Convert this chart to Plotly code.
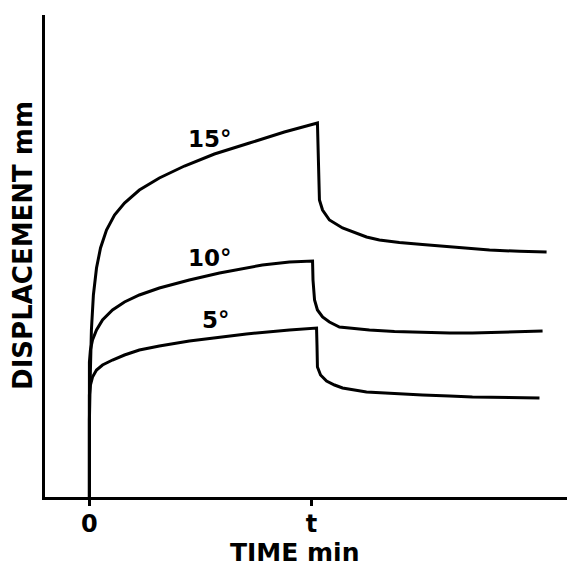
import plotly.graph_objects as go

# Time axis: 0 = load applied, 10 = release time "t"
x15 = [0, 0, 0.045, 0.09, 0.18, 0.32, 0.50, 0.77, 1.13, 1.58, 2.25, 3.15, 4.28, 5.63, 7.21, 8.78, 10.27,
       10.29, 10.32, 10.36, 10.50, 10.81, 11.40, 12.48, 13.06, 13.96, 15.0, 16.53, 18.02, 19.37, 20.59]
y15 = [0, 7.7, 12.7, 16.7, 20.2, 22.9, 24.9, 26.7, 28.2, 29.4, 30.7, 31.9, 33.1, 34.3, 35.4, 36.5, 37.4,
       34.7, 31.7, 29.7, 28.7, 27.7, 26.9, 26.0, 25.7, 25.45, 25.25, 24.95, 24.7, 24.57, 24.5]

x10 = [0, 0, 0.045, 0.14, 0.32, 0.59, 1.04, 1.58, 2.25, 3.15, 4.5, 5.86, 7.79, 9.01, 10.05,
       10.07, 10.14, 10.27, 10.50, 10.81, 11.26, 11.94, 12.61, 13.74, 15.0, 16.22, 17.25, 18.92, 20.41]
y10 = [0, 13.5, 14.7, 15.7, 16.7, 17.7, 18.7, 19.5, 20.2, 20.9, 21.7, 22.4, 23.2, 23.5, 23.6,
       21.7, 19.7, 18.7, 18.0, 17.5, 17.0, 16.83, 16.7, 16.55, 16.45, 16.4, 16.4, 16.47, 16.6]

x5 = [0, 0, 0.045, 0.14, 0.32, 0.59, 1.04, 1.58, 2.25, 3.15, 4.5, 5.86, 7.07, 9.01, 10.23,
      10.25, 10.27, 10.41, 10.68, 11.04, 11.40, 12.48, 13.74, 15.0, 16.22, 17.25, 20.27]
y5 = [0, 10.2, 11.2, 12.0, 12.7, 13.2, 13.7, 14.2, 14.7, 15.1, 15.6, 16.0, 16.3, 16.7, 16.9,
      15.2, 13.0, 12.2, 11.6, 11.2, 10.9, 10.5, 10.32, 10.2, 10.1, 10.0, 9.9]

series = [("15°", x15, y15, 5.41, 35.8),
          ("10°", x10, y10, 5.41, 23.9),
          ("5°", x5, y5, 5.72, 17.7)]

tick_vals = [0, 10]
tick_text = ["0", "t"]

FONT = "DejaVu Sans"

fig = go.Figure()
for name, xs, ys, lx, ly in series:
    fig.add_trace(go.Scatter(x=xs, y=ys, mode="lines", name=name,
                             line=dict(color="black", width=3),
                             showlegend=False, hoverinfo="skip"))
    fig.add_annotation(x=lx, y=ly, text=name, showarrow=False,
                       xanchor="center", yanchor="middle",
                       font=dict(family=FONT, size=23, color="black", weight="bold"))

fig.add_annotation(x=0.47, y=-0.116, xref="paper", yref="paper", text="TIME min",
                   showarrow=False, xanchor="center", yanchor="middle",
                   font=dict(family=FONT, size=25, color="black", weight="bold"))
fig.add_annotation(x=-0.0415, y=0.521, xref="paper", yref="paper", text="DISPLACEMENT mm",
                   textangle=-90, showarrow=False, xanchor="center", yanchor="middle",
                   font=dict(family=FONT, size=26, color="black", weight="bold"))

fig.update_layout(
    width=567, height=559,
    margin=dict(l=37, r=0, t=7, b=70),
    paper_bgcolor="white", plot_bgcolor="white",
    xaxis=dict(range=[-2.0, 21.87], showgrid=False, zeroline=False,
               showline=True, linecolor="black", linewidth=3,
               ticks="outside", ticklen=6, tickwidth=2.5, tickcolor="black",
               tickvals=tick_vals, ticktext=tick_text, ticklabelstandoff=-3,
               tickfont=dict(family=FONT, size=24, color="black", weight="bold")),
    yaxis=dict(range=[0, 48.2], showgrid=False, zeroline=False,
               showline=True, linecolor="black", linewidth=3,
               showticklabels=False, ticks=""),
)

fig.write_html("out.html")
